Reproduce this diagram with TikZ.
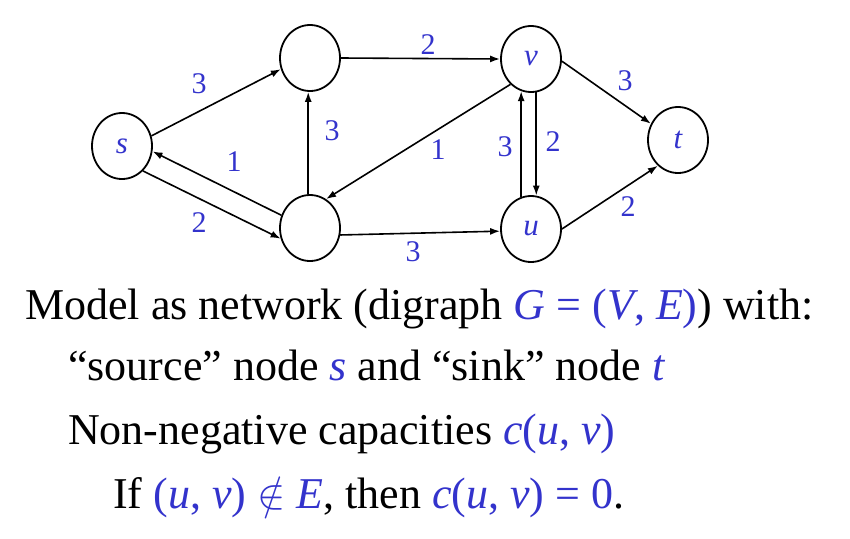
\documentclass[tikz,border=0pt]{standalone}
\usepackage{graphicx}
\usepackage{fontspec}
\setmainfont{Liberation Serif}
\usetikzlibrary{arrows.meta,shapes.geometric}
\definecolor{capblue}{RGB}{51,51,204}
\begin{document}
\begin{tikzpicture}[x=1pt,y=-1pt,
  vert/.style={draw, line width=1.8pt, ellipse, minimum width=60pt, minimum height=66pt, inner sep=0pt, font=\fontsize{31}{31}\selectfont\itshape, text=capblue},
  edge/.style={draw, line width=1.6pt, -{Latex[length=10pt,width=7pt]}},
  caplabel/.style={font=\fontsize{30}{30}\selectfont, text=capblue, inner sep=0pt},
  body/.style={font=\fontsize{44}{44}\selectfont, anchor=base west, inner sep=0pt}]
\useasboundingbox (0,0) rectangle (850,538);
% vertices
\node[vert] (s) at (122,146) {s};
\node[vert] (a) at (310,58) {};
\node[vert] (b) at (310,228) {};
\node[vert] (v) at (531,59) {v};
\node[vert] (u) at (531,229) {u};
\node[vert] (t) at (678,140) {t};
% edges
\draw[edge] (s.19) -- (a.201);
\draw[edge] (b.156) -- (s.350);
\draw[edge] (s.310) -- (b.200);
\draw[edge] (b.93) -- (a.267);
\draw[edge] (a.east) -- (v.west);
\draw[edge] (v.231) -- (b.61);
\draw[edge] (b.347) -- (u.184);
\draw[edge] (u.107) -- (v.253);
\draw[edge] (v.279) -- (u.81);
\draw[edge] (v.356) -- (t.149);
\draw[edge] (u.0) -- (t.232);
% capacities
\node[caplabel] (c1) at (199,84) {3};
\node[caplabel] (c2) at (234,162) {1};
\node[caplabel] (c3) at (199,223) {2};
\node[caplabel] (c4) at (332,131) {3};
\node[caplabel] (c5) at (428,45) {2};
\node[caplabel] (c6) at (438,150) {1};
\node[caplabel] (c7) at (505,147) {3};
\node[caplabel] (c8) at (553,142) {2};
\node[caplabel] (c9) at (625,81) {3};
\node[caplabel] (c10) at (628,207) {2};
\node[caplabel] (c11) at (413,252) {3};
% text
\node[body] (l1) at (25,319) {Model as network (digraph \textcolor{capblue}{\textit{G} = (\textit{V}, \textit{E})}) with:};
\node[body] (l2) at (68,380) {“source” node \textcolor{capblue}{\textit{s}} and “sink” node \textcolor{capblue}{\textit{t}}};
\node[body] (l3) at (68,444) {Non-negative capacities \textcolor{capblue}{\textit{c}(\textit{u}, \textit{v})}};
\node[body] (l4) at (113,508) {If \textcolor{capblue}{(\textit{u}, \textit{v}) \scalebox{1.7}{$\notin$} \textit{E}}, then \textcolor{capblue}{\textit{c}(\textit{u}, \textit{v}) = 0}.};
\end{tikzpicture}
\end{document}
